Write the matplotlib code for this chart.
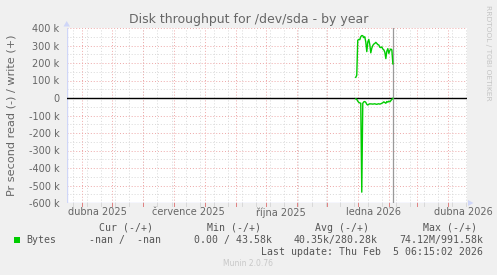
import matplotlib
matplotlib.use('Agg')
import matplotlib.pyplot as plt
import matplotlib.dates as mdates
from matplotlib.patches import Polygon, Rectangle
import datetime as dt
import numpy as np
import pandas as pd

# ---------------- data ----------------
title = "Disk throughput for /dev/sda - by year"
ylabel = "Pr second read (-) / write (+)"
first_sample = dt.datetime(2025, 12, 29, 18, 0)
write_k = [118, 130, 330, 335, 333, 350, 357, 356, 345, 350, 320, 265, 320, 335,
           305, 258, 285, 300, 308, 312, 318, 312, 305, 303, 290, 288, 292, 280,
           275, 262, 225, 268, 282, 255, 272, 280, 275, 195]
read_k = [5, 8, 18, 25, 28, 30, 538, 30, 22, 20, 25, 36, 40, 36, 33, 34, 34, 35,
          34, 33, 35, 36, 34, 33, 35, 33, 30, 27, 22, 26, 30, 20, 24, 18, 22, 15, 8, 2]
ytick_values = [400e3, 300e3, 200e3, 100e3, 0, -100e3, -200e3, -300e3, -400e3, -500e3, -600e3]
ytick_labels = ["400 k", "300 k", "200 k", "100 k", "0", "-100 k", "-200 k",
                "-300 k", "-400 k", "-500 k", "-600 k"]
xlabel_dates = [dt.datetime(2025, 4, 16), dt.datetime(2025, 7, 16), dt.datetime(2025, 10, 16),
                dt.datetime(2026, 1, 16), dt.datetime(2026, 4, 16)]
xlabel_texts = ["dubna 2025", "července 2025", "října 2025", "ledna 2026", "dubna 2026"]
x_start = dt.datetime(2025, 3, 16, 11, 0)
x_end = dt.datetime(2026, 4, 20, 0, 0)
last_update = dt.datetime(2026, 2, 5, 6, 15, 2)
legend_header = ["Cur (-/+)", "Min (-/+)", "Avg (-/+)", "Max (-/+)"]
legend_values = ["-nan /  -nan", "0.00 / 43.58k", "40.35k/280.28k", "74.12M/991.58k"]
series_name = "Bytes"

dates = pd.date_range(first_sample, periods=len(write_k), freq='D')
write = np.array(write_k) * 1000.0
read = -np.array(read_k) * 1000.0

# ---------------- figure ----------------
W, H = 497, 275
fig = plt.figure(figsize=(W / 100, H / 100), dpi=100, facecolor='#F0F0F0')

def fx(x):
    return x / W

def fy(y):
    return 1 - y / H

L, R, T, B = 66.7, 467.3, 28.0, 203.0
ax = fig.add_axes([fx(L), fy(B), (R - L) / W, (B - T) / H])
ax.set_facecolor('white')
for s in ax.spines.values():
    s.set_visible(False)

ax.set_xlim(x_start, x_end)
ax.set_ylim(-600e3, 400e3)

MAJ = '#EEA8A8'
MIN = '#D8D8D8'
dot = (0, (1, 2))

# horizontal grid
for v in np.arange(-550e3, 400e3, 100e3):
    ax.axhline(v, color=MIN, lw=0.7, ls=dot, zorder=1)
for v in ytick_values:
    if v != 0:
        ax.axhline(v, color=MAJ, lw=0.7, ls=dot, zorder=1.2)

# vertical grid
minor_days = pd.date_range('2025-03-23', x_end, freq='14D')
month_starts = pd.date_range('2025-04-01', x_end, freq='MS')
for d in minor_days:
    ax.axvline(d, color=MIN, lw=0.7, ls=dot, zorder=1)
for d in month_starts:
    ax.axvline(d, color=MAJ, lw=0.7, ls=dot, zorder=1.2)

# small tick marks below x-axis
trans = ax.get_xaxis_transform()
for d in minor_days:
    ax.plot([d, d], [0, -2.5 / (B - T)], color=MIN, lw=0.7, transform=trans, clip_on=False, zorder=3)
for d in month_starts:
    ax.plot([d, d], [0, -2.5 / (B - T)], color='#E08080', lw=0.7, transform=trans, clip_on=False, zorder=3)

# axes lines
AX = '#CFD6F8'
ax.axvline(x_start, color=AX, lw=1.0, zorder=4)
ax.axhline(-600e3, color=AX, lw=1.0, zorder=4)

# zero line and now line
ax.axhline(0, color='black', lw=1.0, zorder=5)
ax.axvline(last_update, color='#999999', lw=0.9, zorder=5)

# data
ax.plot(dates, write, color='#00CC00', lw=1.0, zorder=6)
ax.plot(dates, read, color='#00CC00', lw=1.0, zorder=6)

# ticks
ax.set_yticks(ytick_values)
ax.set_yticklabels(ytick_labels)
ax.set_xticks([mdates.date2num(d) for d in xlabel_dates])
ax.set_xticklabels(xlabel_texts)
ax.tick_params(axis='y', length=0, pad=5.2, labelsize=7, labelcolor='#666666')
ax.tick_params(axis='x', length=0, pad=3.0, labelsize=7, labelcolor='#666666')

# arrows
fig.add_artist(Polygon([[fx(63.5), fy(26.5)], [fx(70.0), fy(26.5)], [fx(66.7), fy(21.0)]],
                       closed=True, transform=fig.transFigure, color=AX, lw=0))
fig.add_artist(Polygon([[fx(468.0), fy(200.0)], [fx(468.0), fy(206.0)], [fx(473.5), fy(203.0)]],
                       closed=True, transform=fig.transFigure, color=AX, lw=0))

# texts
fig.text(fx(248.3), fy(23.3), title, ha='center', va='baseline', fontsize=9, color='#666666')
fig.text(fx(11.5), fy(115.5), ylabel, rotation=90, ha='center', va='center', fontsize=8.1, color='#666666')
fig.text(fx(488), fy(53), "RRDTOOL / TOBI OETIKER", rotation=270, ha='center', va='center',
         fontsize=5.4, color='#C4C4C4')

mono = 'DejaVu Sans Mono'
LC = '#555555'
fs = 7.15
for txt, x in zip(legend_header, [98.7, 206.7, 315.0, 422.7]):
    fig.text(fx(x), fy(230.7), txt, ha='left', va='baseline', family=mono, fontsize=fs, color=LC)
fig.add_artist(Rectangle((fx(14), fy(242.7)), 6 / W, 6 / H, transform=fig.transFigure,
                         color='#00CC00', lw=0))
fig.text(fx(26.7), fy(242.7), series_name, ha='left', va='baseline', family=mono, fontsize=fs, color=LC)
for txt, x in zip(legend_values, [89.3, 194.3, 293.3, 399.0]):
    fig.text(fx(x), fy(242.7), txt, ha='left', va='baseline', family=mono, fontsize=fs, color=LC)
fig.text(fx(482.7), fy(255.0), "Last update: " + last_update.strftime("%a %b ") +
         str(last_update.day).rjust(2) + last_update.strftime(" %H:%M:%S %Y"),
         ha='right', va='baseline', family=mono, fontsize=fs, color=LC)
fig.text(fx(248), fy(266), "Munin 2.0.76", ha='center', va='baseline', fontsize=5.5, color='#C8C8C8')

fig.savefig('out.png', dpi=100, facecolor=fig.get_facecolor())
